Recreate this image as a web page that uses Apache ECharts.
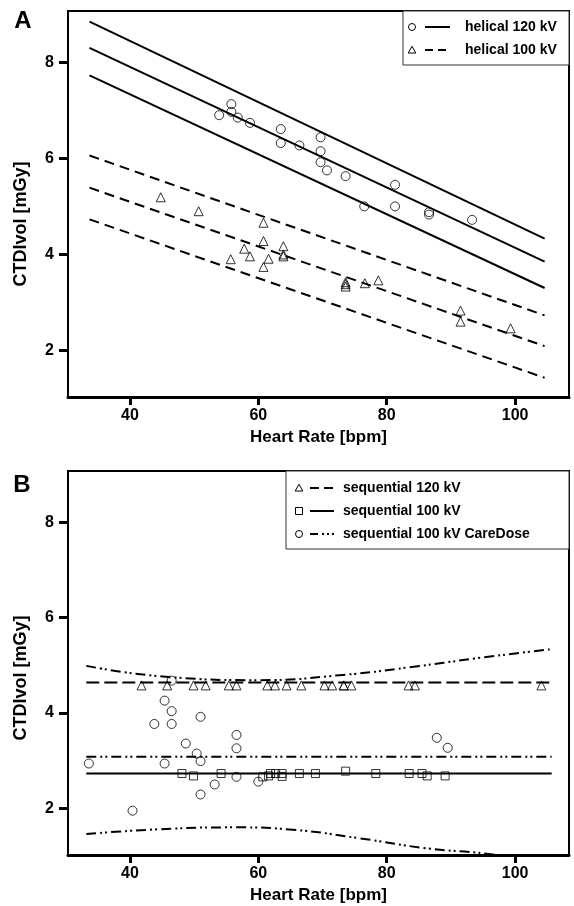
<!DOCTYPE html>
<html>
<head>
<meta charset="utf-8">
<script src="https://cdn.jsdelivr.net/npm/echarts@6/dist/echarts.min.js"></script>
<style>
html,body{margin:0;padding:0;background:#fff;}
#chart{width:574px;height:906px;}
</style>
</head>
<body>
<div id="chart"></div>
<script>
// ---------- Data ----------
const xTicks = [40, 60, 80, 100];
const yTicks = [2, 4, 6, 8];

// Panel A: helical 120 kV (circles)
const xA120 = [55.8, 55.8, 53.9, 56.8, 58.7, 63.5, 63.5, 66.4, 69.7, 69.7, 69.7, 70.7, 73.6, 76.5, 81.3, 81.3, 86.6, 86.6, 93.3];
const yA120 = [7.13, 6.97, 6.90, 6.85, 6.74, 6.61, 6.32, 6.27, 6.44, 6.15, 5.92, 5.75, 5.63, 5.00, 5.45, 5.00, 4.88, 4.83, 4.72];
// Panel A: helical 100 kV (triangles)
const xA100 = [44.8, 50.7, 60.8, 60.8, 57.8, 63.9, 63.9, 63.9, 55.7, 58.7, 61.6, 60.8, 73.6, 73.6, 73.6, 76.6, 78.7, 91.5, 91.5, 99.3];
const yA100 = [5.19, 4.90, 4.66, 4.28, 4.12, 4.17, 4.00, 3.96, 3.90, 3.96, 3.91, 3.74, 3.33, 3.38, 3.42, 3.40, 3.46, 2.83, 2.60, 2.46];
// Panel A fit lines (end points)
const fitXA = [33.7, 104.6];
const a120Upper = [8.85, 4.33];
const a120Fit = [8.30, 3.85];
const a120Lower = [7.73, 3.30];
const a100Upper = [6.06, 2.73];
const a100Fit = [5.39, 2.09];
const a100Lower = [4.73, 1.43];

// Panel B: sequential 120 kV (triangles)
const xB120 = [41.8, 45.8, 49.9, 51.8, 55.4, 56.6, 61.4, 62.6, 64.4, 66.7, 70.3, 71.5, 73.3, 73.3, 74.5, 83.4, 84.4, 104.1];
const yB120 = [4.58, 4.58, 4.58, 4.58, 4.58, 4.58, 4.58, 4.58, 4.58, 4.58, 4.58, 4.58, 4.58, 4.58, 4.58, 4.58, 4.58, 4.58];
// Panel B: sequential 100 kV (squares)
const xB100 = [48.1, 49.9, 54.2, 60.7, 61.6, 61.9, 62.7, 63.7, 63.7, 66.4, 68.9, 73.6, 78.3, 83.5, 85.5, 86.3, 89.1];
const yB100 = [2.73, 2.68, 2.73, 2.66, 2.68, 2.73, 2.73, 2.73, 2.67, 2.73, 2.73, 2.78, 2.73, 2.73, 2.73, 2.68, 2.68];
// Panel B: sequential 100 kV CareDose (circles)
const xBCare = [46.5, 45.4, 46.5, 43.8, 46.5, 51.0, 48.7, 50.4, 51.0, 56.6, 56.6, 33.6, 45.4, 56.6, 53.2, 60.0, 51.0, 40.4, 87.8, 89.5];
const yBCare = [4.68, 4.26, 4.04, 3.77, 3.77, 3.92, 3.36, 3.15, 2.99, 3.54, 3.26, 2.94, 2.94, 2.66, 2.50, 2.56, 2.29, 1.95, 3.48, 3.27];
// Panel B mean lines
const meanXB = [33.2, 105.7];
const b120Mean = [4.64, 4.64];
const b100Mean = [2.73, 2.73];
const bCareMean = [3.08, 3.08];
// Panel B CareDose band curves
const careUpX = [33.2, 46.6, 60.2, 73.2, 83.6, 94.1, 105.7];
const careUpY = [4.99, 4.75, 4.69, 4.80, 4.96, 5.15, 5.34];
const careLoX = [33.2, 44.5, 56.5, 65.4, 75.8, 86.2, 95.9, 105.7];
const careLoY = [1.46, 1.56, 1.60, 1.55, 1.37, 1.16, 1.04, 0.82];

// ---------- Helpers ----------
const zip = (xs, ys) => xs.map((x, i) => [x, ys[i]]);
const FONT = '"Liberation Sans", Arial, sans-serif';
const BLACK = '#000';
const DASH = [10, 6];
const DASH_B = [13, 5];
const DASHDOT = [10, 4, 2, 3, 2, 4];

function xAxisDef(gridIndex) {
  return {
    type: 'value', gridIndex, min: 30.35, max: 108.4,
    name: 'Heart Rate [bpm]', nameLocation: 'middle', nameGap: 32,
    nameTextStyle: { fontFamily: FONT, fontWeight: 'bold', fontSize: 17, color: BLACK },
    axisLine: { show: true, onZero: false, lineStyle: { color: BLACK, width: 3 } },
    axisTick: { show: true, customValues: xTicks, length: 8, lineStyle: { color: BLACK, width: 3 } },
    axisLabel: { show: true, customValues: xTicks, margin: 11, fontFamily: FONT, fontWeight: 'bold', fontSize: 16, color: BLACK },
    splitLine: { show: false }
  };
}
function yAxisDef(gridIndex, min, max) {
  return {
    type: 'value', gridIndex, min, max,
    axisLine: { show: true, onZero: false, lineStyle: { color: BLACK, width: 2 } },
    axisTick: { show: true, customValues: yTicks, length: 9, lineStyle: { color: BLACK, width: 3 } },
    axisLabel: { show: true, customValues: yTicks, margin: 14, fontFamily: FONT, fontWeight: 'bold', fontSize: 16, color: BLACK },
    splitLine: { show: false }
  };
}
function scatter(name, xi, yi, xs, ys, symbol, size) {
  return {
    name, type: 'scatter', xAxisIndex: xi, yAxisIndex: yi, data: zip(xs, ys),
    symbol, symbolSize: size, z: 5,
    itemStyle: { color: 'rgba(255,255,255,0)', borderColor: BLACK, borderWidth: 1 },
    emphasis: { disabled: true }
  };
}
function line(name, xi, yi, xs, ys, type, width, smooth) {
  return {
    name, type: 'line', xAxisIndex: xi, yAxisIndex: yi, data: zip(xs, ys),
    showSymbol: false, symbol: 'none', smooth: !!smooth, clip: true, z: 3,
    lineStyle: { color: BLACK, width: width || 2, type: type || 'solid' },
    emphasis: { disabled: true }
  };
}

// ---------- Legend graphics ----------
function tri(cx, cy, r) {
  return { type: 'polygon', shape: { points: [[cx, cy - r], [cx - r, cy + r * 0.8], [cx + r, cy + r * 0.8]] },
    style: { fill: 'none', stroke: BLACK, lineWidth: 1 } };
}
function legText(x, y, t) {
  return { type: 'text', x, y, style: { text: t, fontFamily: FONT, fontWeight: 'bold', fontSize: 14, fill: BLACK, verticalAlign: 'middle', align: 'left' } };
}
function legLine(x1, x2, y, dash) {
  return { type: 'line', shape: { x1, y1: y, x2, y2: y }, style: { stroke: BLACK, lineWidth: 2, lineDash: dash || null } };
}

const graphics = [
  { type: 'text', x: 23, y: 21, style: { text: 'A', fontFamily: FONT, fontWeight: 'bold', fontSize: 24, fill: BLACK, align: 'center', verticalAlign: 'middle' } },
  { type: 'text', x: 22, y: 485, style: { text: 'B', fontFamily: FONT, fontWeight: 'bold', fontSize: 24, fill: BLACK, align: 'center', verticalAlign: 'middle' } },
  { type: 'text', x: 21, y: 224, rotation: Math.PI / 2, style: { text: 'CTDIvol [mGy]', fontFamily: FONT, fontWeight: 'bold', fontSize: 18, fill: BLACK, align: 'center', verticalAlign: 'middle' } },
  { type: 'text', x: 21, y: 678, rotation: Math.PI / 2, style: { text: 'CTDIvol [mGy]', fontFamily: FONT, fontWeight: 'bold', fontSize: 18, fill: BLACK, align: 'center', verticalAlign: 'middle' } },
  // Legend A
  { type: 'rect', shape: { x: 403, y: 11, width: 166, height: 54 }, style: { fill: '#fff', stroke: '#333', lineWidth: 1 }, z: 10 },
  { type: 'circle', shape: { cx: 412, cy: 27, r: 3.5 }, style: { fill: 'none', stroke: BLACK, lineWidth: 1 }, z: 11 },
  Object.assign(legLine(425, 450, 27), { z: 11 }),
  Object.assign(legText(465, 27, 'helical 120 kV'), { z: 11 }),
  Object.assign(tri(412, 50, 3.8), { z: 11 }),
  Object.assign(legLine(425, 450, 50, [8, 5]), { z: 11 }),
  Object.assign(legText(465, 50, 'helical 100 kV'), { z: 11 }),
  // Legend B
  { type: 'rect', shape: { x: 286, y: 471, width: 283, height: 78 }, style: { fill: '#fff', stroke: '#333', lineWidth: 1 }, z: 10 },
  Object.assign(tri(299, 488, 3.8), { z: 11 }),
  Object.assign(legLine(310, 334, 488, [9, 5]), { z: 11 }),
  Object.assign(legText(343, 488, 'sequential 120 kV'), { z: 11 }),
  { type: 'rect', shape: { x: 295.5, y: 507.5, width: 7, height: 7 }, style: { fill: 'none', stroke: BLACK, lineWidth: 1 }, z: 11 },
  Object.assign(legLine(310, 334, 511), { z: 11 }),
  Object.assign(legText(343, 511, 'sequential 100 kV'), { z: 11 }),
  { type: 'circle', shape: { cx: 299, cy: 534, r: 3.5 }, style: { fill: 'none', stroke: BLACK, lineWidth: 1 }, z: 11 },
  Object.assign(legLine(310, 334, 534, [8, 4, 2, 3, 2, 3]), { z: 11 }),
  Object.assign(legText(343, 534, 'sequential 100 kV CareDose'), { z: 11 })
];

const chart = echarts.init(document.getElementById('chart'), null, { renderer: 'canvas' });
chart.setOption({
  animation: false,
  backgroundColor: '#fff',
  grid: [
    { left: 68, top: 11, width: 501, height: 386, show: true, borderColor: BLACK, borderWidth: 2, backgroundColor: 'transparent' },
    { left: 68, top: 471, width: 501, height: 384, show: true, borderColor: BLACK, borderWidth: 2, backgroundColor: 'transparent' }
  ],
  xAxis: [xAxisDef(0), xAxisDef(1)],
  yAxis: [yAxisDef(0, 1.03, 9.07), yAxisDef(1, 1.02, 9.08)],
  series: [
    line('A120 upper', 0, 0, fitXA, a120Upper, 'solid', 2),
    line('A120 fit', 0, 0, fitXA, a120Fit, 'solid', 2),
    line('A120 lower', 0, 0, fitXA, a120Lower, 'solid', 2),
    line('A100 upper', 0, 0, fitXA, a100Upper, DASH, 2),
    line('A100 fit', 0, 0, fitXA, a100Fit, DASH, 2),
    line('A100 lower', 0, 0, fitXA, a100Lower, DASH, 2),
    scatter('helical 120 kV', 0, 0, xA120, yA120, 'circle', 9),
    scatter('helical 100 kV', 0, 0, xA100, yA100, 'triangle', 9),
    line('B120 mean', 1, 1, meanXB, b120Mean, DASH_B, 2),
    line('B100 mean', 1, 1, meanXB, b100Mean, 'solid', 2),
    line('BCare mean', 1, 1, meanXB, bCareMean, DASHDOT, 2),
    line('BCare upper', 1, 1, careUpX, careUpY, DASHDOT, 2, true),
    line('BCare lower', 1, 1, careLoX, careLoY, DASHDOT, 2, true),
    scatter('sequential 120 kV', 1, 1, xB120, yB120, 'triangle', 9),
    scatter('sequential 100 kV', 1, 1, xB100, yB100, 'rect', 8),
    scatter('sequential 100 kV CareDose', 1, 1, xBCare, yBCare, 'circle', 9)
  ],
  graphic: graphics
});
</script>
</body>
</html>
